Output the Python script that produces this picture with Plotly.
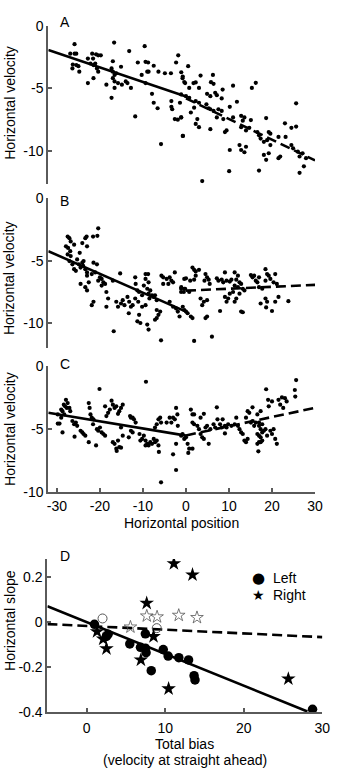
import plotly.graph_objects as go

FONT = "Liberation Sans, Arial, sans-serif"

# ---------------- data ----------------
panel_a_points = [
    (-25.9,-1.48),(-26.9,-2.24),(-25.9,-2.24),(-25.5,-2.24),(-26.3,-3.10),(-26.4,-3.41),(-25.5,-3.15),(-25.0,-3.23),
    (-24.8,-3.67),(-22.8,-2.63),(-21.8,-2.24),(-21.6,-2.63),(-20.9,-2.29),(-20.4,-2.37),(-19.8,-2.37),(-22.2,-3.02),
    (-21.5,-3.15),(-21.1,-3.02),(-20.7,-3.41),(-20.4,-3.67),(-21.5,-4.19),(-22.8,-4.58),(-16.7,-1.35),(-17.0,-2.84),
    (-17.3,-3.41),(-17.0,-3.67),(-16.6,-3.93),(-16.2,-3.80),(-17.0,-4.19),(-16.6,-4.45),(-15.8,-4.58),(-15.1,-3.28),
    (-14.9,-4.71),(-18.5,-4.71),(-17.3,-5.76),(-16.6,-4.97),(-14.0,-4.45),(-13.6,-4.58),(-12.8,-4.97),(-13.2,-2.03),
    (-11.2,-2.94),(-9.6,-1.64),(-9.4,-2.89),(-9.0,-3.67),(-8.7,-3.67),(-8.8,-2.94),(-10.3,-3.93),(-9.4,-4.58),
    (-7.5,-3.20),(-6.4,-3.67),(-4.9,-3.80),(-3.5,-3.80),(-2.3,-2.94),(-1.8,-2.37),(-1.1,-3.72),(-0.8,-4.19),
    (-0.4,-4.50),(-7.9,-5.44),(-7.5,-6.15),(-6.6,-6.59),(-3.4,-6.02),(-3.4,-6.48),(-3.2,-6.67),(-1.4,-6.15),
    (-2.6,-7.45),(-1.9,-7.50),(-1.1,-7.32),(-11.8,-7.24),(-0.7,-8.80),(-5.8,-9.45),
    (0.5,-3.23),(-0.75,-4.06),(-0.2,-4.58),(0.75,-4.97),(1.74,-4.58),(2.26,-4.53),(3.39,-3.98),(6.26,-3.93),
    (5.81,-4.51),(6.41,-4.64),(3.02,-4.97),(4.90,-5.44),(5.66,-5.63),(6.79,-5.36),(7.17,-5.55),(8.52,-5.10),
    (8.30,-5.81),(-1.13,-5.49),(0.0,-5.63),(0.75,-5.76),(2.26,-6.02),(3.02,-6.15),(4.75,-6.28),(5.28,-6.59),
    (5.66,-6.67),(6.41,-6.80),(7.54,-6.67),(8.30,-6.80),(10.94,-4.79),(11.84,-6.07),(10.18,-6.48),(15.31,-4.97),
    (16.22,-4.56),(1.89,-6.54),(1.13,-6.93),(-1.13,-7.32),(2.64,-7.45),(2.26,-7.84),(3.02,-8.10),(-0.75,-8.80),
    (5.66,-8.26),(7.17,-7.32),(8.67,-7.45),(9.05,-8.49),(9.43,-8.36),(10.94,-7.32),(12.82,-7.19),(13.2,-7.58),
    (13.58,-7.32),(15.08,-7.53),(12.82,-8.10),(13.95,-8.36),(14.71,-8.15),(16.59,-8.49),(16.97,-8.75),(17.35,-9.01),
    (18.63,-7.37),(19.23,-8.49),(19.61,-8.62),(18.85,-9.14),(18.1,-9.27),(19.61,-9.53),(21.5,-8.88),(23.0,-7.79),
    (23.15,-8.88),(24.5,-8.15),(25.6,-8.05),(25.6,-6.20),(24.5,-9.53),(24.9,-9.79),(26.0,-10.05),(26.4,-10.44),
    (27.1,-10.18),(27.9,-10.57),(27.4,-11.22),(26.4,-11.74),(21.9,-10.44),(21.5,-10.57),(19.23,-10.18),(18.1,-10.31),
    (18.63,-10.70),(10.18,-9.92),(12.44,-9.53),(12.82,-9.92),(13.95,-9.66),(13.58,-10.10),(10.03,-11.61),(16.97,-11.56),
    (3.77,-12.40),
]
panel_b_points = [
    (-27.5,-3.05),(-27.1,-3.18),(-26.8,-3.44),(-26.0,-3.70),(-27.9,-3.83),(-27.4,-3.96),(-26.9,-4.22),(-27.5,-4.48),
    (-26.8,-4.61),(-27.1,-5.01),(-26.4,-5.27),(-26.0,-5.66),(-25.6,-5.79),(-25.3,-4.88),(-24.9,-5.27),(-24.7,-4.35),
    (-24.1,-3.57),(-23.4,-3.18),(-23.1,-3.05),(-23.0,-3.83),(-21.6,-3.05),(-20.4,-2.39),(-20.6,-2.99),(-24.5,-5.53),
    (-24.1,-5.14),(-23.8,-5.01),(-23.9,-5.40),(-23.4,-5.66),(-23.0,-5.92),(-24.5,-6.84),(-23.0,-6.18),(-22.6,-6.71),
    (-23.0,-7.36),(-23.4,-7.10),(-21.5,-5.14),(-20.7,-5.27),(-21.9,-6.05),(-21.1,-5.92),(-20.0,-6.31),(-20.4,-6.58),
    (-19.6,-6.44),(-19.2,-6.71),(-18.8,-6.84),(-19.6,-6.97),(-18.5,-7.49),(-21.5,-8.27),(-21.9,-8.54),(-18.1,-8.01),
    (-18.5,-8.67),(-15.3,-6.00),(-17.0,-6.58),(-16.2,-8.27),(-15.8,-8.67),(-15.1,-8.41),(-14.7,-8.14),(-14.3,-8.54),
    (-13.6,-7.88),(-13.3,-9.19),(-13.2,-8.27),(-12.8,-8.67),(-12.4,-8.54),(-11.8,-6.31),(-11.7,-6.84),(-11.3,-7.36),
    (-10.9,-7.49),(-11.8,-8.01),(-11.1,-8.27),(-10.2,-7.75),(-9.4,-6.05),(-8.8,-6.05),(-9.4,-6.44),(-8.7,-6.71),
    (-9.8,-6.97),(-9.0,-7.23),(-8.3,-7.36),(-8.7,-7.62),(-7.9,-7.75),(-8.5,-8.01),(-7.5,-7.88),(-7.2,-7.75),
    (-6.8,-8.14),(-9.4,-8.54),(-10.2,-8.67),(-10.9,-9.32),(-11.3,-9.84),(-10.6,-9.97),(-9.0,-10.10),(-8.7,-10.50),
    (-6.8,-8.93),(-6.4,-9.32),(-6.8,-9.58),(-7.2,-9.71),(-6.0,-9.06),(-5.7,-6.18),(-5.3,-6.31),(-5.3,-6.84),
    (-4.5,-6.44),(-3.8,-6.31),(-3.4,-6.58),(-4.1,-6.84),(-3.0,-6.71),(-2.6,-5.92),(-3.8,-8.27),(-3.0,-8.67),
    (-2.3,-8.80),(-1.9,-9.06),(-1.5,-9.45),(-1.1,-7.10),(-0.5,-7.49),(-0.2,-7.23),(-0.4,-6.44),(-16.8,-10.63),
    (-5.8,-11.36),
    (1.51,-5.53),(1.89,-5.71),(2.26,-5.84),(3.02,-5.71),(0.0,-6.39),(0.98,-6.58),(1.89,-6.50),(2.26,-6.18),
    (4.53,-6.05),(4.90,-6.31),(4.30,-6.58),(5.28,-6.50),(5.51,-6.84),(7.17,-6.39),(7.54,-6.58),(8.30,-6.50),
    (9.05,-5.92),(8.67,-6.71),(9.43,-6.58),(10.18,-6.65),(10.56,-6.50),(11.31,-5.92),(12.07,-6.18),(11.69,-6.50),
    (12.44,-6.71),(11.31,-6.97),(12.07,-7.10),(12.82,-6.84),(15.08,-6.13),(15.46,-6.31),(15.84,-6.18),(16.22,-6.58),
    (16.97,-6.31),(16.59,-6.71),(18.48,-5.66),(18.85,-6.05),(19.23,-6.18),(18.48,-6.58),(19.61,-6.44),(20.74,-6.05),
    (20.36,-6.71),(21.12,-6.84),(16.97,-7.10),(17.72,-7.23),(13.2,-7.23),(13.58,-7.36),(10.94,-7.49),(10.18,-7.62),
    (9.80,-8.01),(9.43,-8.27),(9.05,-7.88),(12.44,-7.62),(11.69,-8.01),(11.31,-8.27),(3.39,-8.01),(4.15,-8.27),
    (4.90,-8.14),(3.77,-8.54),(-0.38,-7.23),(-1.13,-7.23),(-0.75,-8.67),(-0.38,-8.93),(0.0,-9.06),(0.38,-9.19),
    (1.13,-9.45),(1.51,-9.58),(4.90,-9.45),(4.53,-9.58),(7.92,-9.01),(12.82,-9.06),(13.2,-9.11),(17.35,-8.41),
    (18.48,-8.01),(18.85,-8.27),(18.63,-8.72),(19.99,-9.01),(20.74,-8.27),(21.5,-7.88),(23.8,-8.22),(1.89,-11.41),
    (6.03,-11.07),(-1.13,-7.49),(0.75,-7.49),
]
panel_c_points = [
    (-29.8,-4.56),(-29.4,-4.56),(-29.0,-4.09),(-29.0,-3.44),(-28.7,-3.57),(-28.3,-3.83),(-28.4,-3.05),(-28.1,-3.18),
    (-27.9,-2.66),(-27.5,-2.92),(-27.7,-3.31),(-27.1,-3.31),(-26.9,-3.57),(-28.7,-5.26),(-29.8,-3.83),(-26.4,-4.35),
    (-26.0,-4.61),(-25.6,-4.48),(-25.3,-4.74),(-25.9,-5.60),(-24.5,-5.13),(-24.1,-5.26),(-23.8,-5.39),(-23.4,-5.52),
    (-22.6,-6.04),(-22.4,-3.31),(-22.6,-2.92),(-22.2,-3.83),(-21.9,-4.09),(-21.6,-4.61),(-21.5,-4.22),(-20.9,-6.30),
    (-20.7,-5.00),(-20.4,-5.13),(-20.0,-4.87),(-19.6,-5.26),(-19.2,-5.39),(-18.8,-5.52),(-20.1,-1.80),(-18.8,-3.18),
    (-18.5,-3.96),(-18.1,-3.70),(-17.7,-3.44),(-17.3,-2.73),(-17.0,-3.05),(-16.6,-3.31),(-16.2,-3.18),(-15.8,-3.78),
    (-15.5,-3.57),(-15.1,-3.31),(-14.7,-3.05),(-17.0,-6.04),(-16.6,-6.17),(-16.2,-6.56),(-16.1,-6.74),(-15.8,-5.91),
    (-15.5,-6.43),(-15.1,-6.48),(-14.7,-5.52),(-15.1,-4.87),(-13.3,-5.65),(-13.0,-3.96),(-12.8,-4.09),(-12.4,-4.09),
    (-12.1,-4.22),(-11.7,-4.48),(-12.8,-5.13),(-12.4,-5.26),(-10.8,-5.39),(-10.6,-5.91),(-10.2,-5.78),(-9.8,-5.52),
    (-9.4,-5.91),(-9.0,-6.17),(-8.7,-6.30),(-8.3,-6.04),(-7.9,-6.17),(-9.4,-6.30),(-7.5,-5.78),(-7.2,-6.04),
    (-6.8,-5.91),(-6.4,-6.30),(-6.3,-6.82),(-7.2,-4.87),(-6.8,-4.61),(-6.4,-4.22),(-6.0,-4.09),(-5.8,-4.48),
    (-4.5,-4.48),(-3.8,-4.09),(-3.4,-4.48),(-3.0,-4.09),(-2.6,-4.22),(-2.3,-3.31),(-2.0,-3.83),(-1.9,-4.74),
    (-2.3,-6.17),(-3.0,-7.01),(-2.3,-8.26),(-0.8,-5.39),(-0.4,-5.78),(-5.8,-9.24),(-9.3,-1.22),
    (-1.13,-5.52),(0.0,-5.65),(0.38,-6.17),(0.75,-6.56),(0.53,-6.90),(1.51,-6.56),(1.13,-3.44),(1.51,-3.83),
    (1.89,-3.83),(1.51,-4.48),(1.89,-4.61),(2.64,-4.74),(3.02,-5.00),(3.39,-5.39),(3.77,-5.65),(4.15,-5.78),
    (5.28,-6.17),(3.39,-4.09),(4.15,-3.78),(4.53,-4.87),(4.90,-4.74),(5.66,-5.00),(6.41,-4.61),(6.79,-4.87),
    (7.32,-4.22),(7.17,-3.26),(7.92,-4.61),(8.30,-4.87),(8.52,-4.22),(9.05,-4.74),(9.05,-5.34),(9.43,-4.87),
    (9.80,-4.61),(10.56,-4.74),(11.31,-4.61),(11.69,-4.09),(12.07,-4.74),(12.44,-5.00),(12.82,-5.26),(13.2,-5.39),
    (13.58,-5.91),(13.95,-6.04),(14.33,-5.78),(13.95,-4.09),(14.33,-3.57),(14.71,-3.70),(15.46,-3.26),(15.08,-4.48),
    (15.46,-4.35),(15.84,-4.74),(16.22,-4.48),(16.59,-3.83),(16.97,-4.48),(17.35,-3.57),(16.97,-4.74),(17.35,-5.00),
    (17.72,-4.61),(16.59,-5.39),(16.97,-5.52),(17.35,-5.65),(17.72,-5.26),(18.1,-5.13),(18.48,-5.00),(16.59,-6.17),
    (17.35,-6.04),(17.72,-5.91),(16.82,-6.77),(18.85,-5.52),(19.61,-5.13),(19.99,-5.39),(20.36,-5.00),(20.74,-5.78),
    (21.12,-6.17),(18.63,-1.82),(19.08,-2.66),(19.23,-3.18),(19.99,-2.79),(21.5,-2.66),(21.9,-3.05),(22.3,-2.47),
    (22.6,-3.31),(23.0,-2.53),(23.4,-2.79),(25.3,-1.88),(25.4,-2.40),(25.6,-1.09),(16.97,-6.04),
]

# regression lines (endpoints): left of straight ahead solid, right dashed
fit_a_solid_x, fit_a_solid_y = [-32, 0], [-1.95, -5.65]
fit_a_dash_x, fit_a_dash_y = [0, 30], [-5.8, -10.75]
fit_b_solid_x, fit_b_solid_y = [-32, 0], [-4.22, -9.06]
fit_b_dash_x, fit_b_dash_y = [0, 30], [-7.38, -6.92]
fit_c_solid_x, fit_c_solid_y = [-32, 0], [-3.70, -5.52]
fit_c_dash_x, fit_c_dash_y = [0, 30], [-5.5, -3.30]

d_left_x = [0.99, 2.73, 2.52, 5.49, 7.47, 6.85, 7.47, 7.56, 9.75, 10.37, 11.73, 12.97, 8.22, 13.67, 13.79, 28.75]
d_left_y = [-0.010, -0.054, -0.064, -0.097, -0.052, -0.112, -0.116, -0.136, -0.122, -0.151, -0.158, -0.168, -0.216, -0.238, -0.257, -0.387]
d_left_open_x = [2.02, 8.92]
d_left_open_y = [0.016, -0.027]
d_right_x = [11.1, 13.47, 7.64, 1.32, 2.1, 2.52, 6.9, 10.43, 25.67, 8.51]
d_right_y = [0.26, 0.21, 0.084, -0.042, -0.075, -0.118, -0.168, -0.296, -0.252, -0.064]
d_right_open_x = [7.65, 8.96, 11.72, 14.04, 5.57]
d_right_open_y = [0.027, 0.023, 0.030, 0.020, -0.022]
fit_d_solid_x, fit_d_solid_y = [-5, 28.1], [0.07, -0.397]
fit_d_dash_x, fit_d_dash_y = [-5, 30], [-0.009, -0.067]

legend_labels = ["Left", "Right"]
legend_glyphs = ["\u25CF", "\u2605"]

vel_ticks = [0, -5, -10]
vel_ticktext = ["0", "-5", "-10"]
pos_ticks = [-30, -20, -10, 0, 10, 20, 30]
pos_ticktext = ["-30", "-20", "-10", "0", "10", "20", "30"]
slope_ticks = [0.2, 0, -0.2, -0.4]
slope_ticktext = ["0.2", "0", "-0.2", "-0.4"]
bias_ticks = [0, 10, 20, 30]
bias_ticktext = ["0", "10", "20", "30"]

# ---------------- figure ----------------
W, H = 340, 776
fig = go.Figure()

def px(x):
    return x / W

def py(y):
    return 1 - y / H

axes = ["", "2", "3", "4"]
DASH = "10px,5px"

def add_panel(i, pts, sx, sy, dx, dy):
    xs = [p[0] for p in pts]
    ys = [p[1] for p in pts]
    xa = "x" + axes[i]
    ya = "y" + axes[i]
    fig.add_trace(go.Scatter(x=xs, y=ys, mode="markers", xaxis=xa, yaxis=ya,
                             marker=dict(size=4.2, color="black"), showlegend=False, hoverinfo="skip"))
    fig.add_trace(go.Scatter(x=sx, y=sy, mode="lines", xaxis=xa, yaxis=ya,
                             line=dict(color="black", width=2.6), showlegend=False))
    fig.add_trace(go.Scatter(x=dx, y=dy, mode="lines", xaxis=xa, yaxis=ya,
                             line=dict(color="black", width=2.6, dash=DASH), showlegend=False))

add_panel(0, panel_a_points, fit_a_solid_x, fit_a_solid_y, fit_a_dash_x, fit_a_dash_y)
add_panel(1, panel_b_points, fit_b_solid_x, fit_b_solid_y, fit_b_dash_x, fit_b_dash_y)
add_panel(2, panel_c_points, fit_c_solid_x, fit_c_solid_y, fit_c_dash_x, fit_c_dash_y)

# panel D
fig.add_trace(go.Scatter(x=fit_d_solid_x, y=fit_d_solid_y, mode="lines", xaxis="x4", yaxis="y4",
                         line=dict(color="black", width=2.6), showlegend=False))
fig.add_trace(go.Scatter(x=fit_d_dash_x, y=fit_d_dash_y, mode="lines", xaxis="x4", yaxis="y4",
                         line=dict(color="black", width=2.6, dash=DASH), showlegend=False))
fig.add_trace(go.Scatter(x=d_left_open_x, y=d_left_open_y, mode="markers", xaxis="x4", yaxis="y4",
                         marker=dict(symbol="circle-open", size=9, color="#555", line=dict(width=1)),
                         showlegend=False))
fig.add_trace(go.Scatter(x=d_right_open_x, y=d_right_open_y, mode="markers", xaxis="x4", yaxis="y4",
                         marker=dict(symbol="star-open", size=9.5, color="#555", line=dict(width=0.8)),
                         showlegend=False))
fig.add_trace(go.Scatter(x=d_left_x, y=d_left_y, mode="markers", xaxis="x4", yaxis="y4", name="Left",
                         marker=dict(symbol="circle", size=9.5, color="black"), showlegend=False))
fig.add_trace(go.Scatter(x=d_right_x, y=d_right_y, mode="markers", xaxis="x4", yaxis="y4", name="Right",
                         marker=dict(symbol="star", size=11, color="black"), showlegend=False))

AX = "#5a5a5a"
tickfont = dict(family=FONT, size=14, color="black")

def yax(dom, rng, tv, tt):
    return dict(domain=dom, range=rng, tickvals=tv, ticktext=tt, ticks="inside", ticklen=4,
                tickwidth=1.5, tickcolor=AX, showline=True, linecolor=AX, linewidth=2,
                showgrid=False, zeroline=False, tickfont=tickfont, fixedrange=True)

def xax_hidden(dom, rng, anchor):
    return dict(domain=dom, range=rng, visible=False, anchor=anchor)

def xax_shown(dom, rng, anchor, tv, tt, standoff):
    return dict(domain=dom, range=rng, anchor=anchor, tickvals=tv, ticktext=tt,
                ticks="inside", ticklen=4, tickwidth=1.5, tickcolor=AX, showline=True, linecolor=AX,
                linewidth=2, showgrid=False, zeroline=False, tickfont=tickfont, ticklabelstandoff=standoff)

xdomABC = [px(48.6), px(322.6)]
xrng = [-32, 30]

fig.update_layout(
    width=W, height=H, margin=dict(l=0, r=0, t=0, b=0),
    paper_bgcolor="white", plot_bgcolor="white",
    font=dict(family=FONT, size=14, color="black"),
    xaxis=xax_hidden(xdomABC, xrng, "y"),
    yaxis=dict(yax([py(179.3), py(18)], [-12.6, 0], vel_ticks, vel_ticktext), anchor="x"),
    xaxis2=xax_hidden(xdomABC, xrng, "y2"),
    yaxis2=dict(yax([py(347.5), py(194.5)], [-12, 0], vel_ticks, vel_ticktext), anchor="x2"),
    xaxis3=xax_shown(xdomABC, xrng, "y3", pos_ticks, pos_ticktext, 0),
    yaxis3=dict(yax([py(494), py(366)], [-10, 0], vel_ticks, vel_ticktext), anchor="x3"),
    xaxis4=xax_shown([px(47.65), px(330.1)], [-5, 30], "y4", bias_ticks, bias_ticktext, 2),
    yaxis4=dict(yax([py(719), py(562.6)], [-0.4, 0.28], slope_ticks, slope_ticktext), anchor="x4"),
    showlegend=False,
)

ann = []
def label(text, x, y, angle=0, size=14, family=FONT, xanchor="center"):
    ann.append(dict(text=text, x=px(x), y=py(y), xref="paper", yref="paper", showarrow=False,
                    textangle=angle, font=dict(family=family, size=size, color="black"),
                    xanchor=xanchor, yanchor="middle"))

label("A", 65.5, 14.5)
label("B", 65.5, 197.5)
label("C", 65.5, 363)
label("D", 65.5, 560)
label("Horizontal velocity", 9, 97, -90)
label("Horizontal velocity", 9, 276, -90)
label("Horizontal velocity", 9, 430, -90)
label("Horizontal slope", 9, 625, -90)
label("Horizontal position", 185, 525.5)
label("Total bias", 189, 751)
label("(velocity at straight ahead)", 189, 768)

# legend (key glyph + label)
legend_rows = [582, 599]
for glyph, text, row, gsize in zip(legend_glyphs, legend_labels, legend_rows, [15, 14]):
    label(glyph, 265, row, size=gsize, family="DejaVu Sans")
    label(text, 277.5, row, xanchor="left")

fig.update_layout(annotations=ann)

fig.write_html("out.html")
